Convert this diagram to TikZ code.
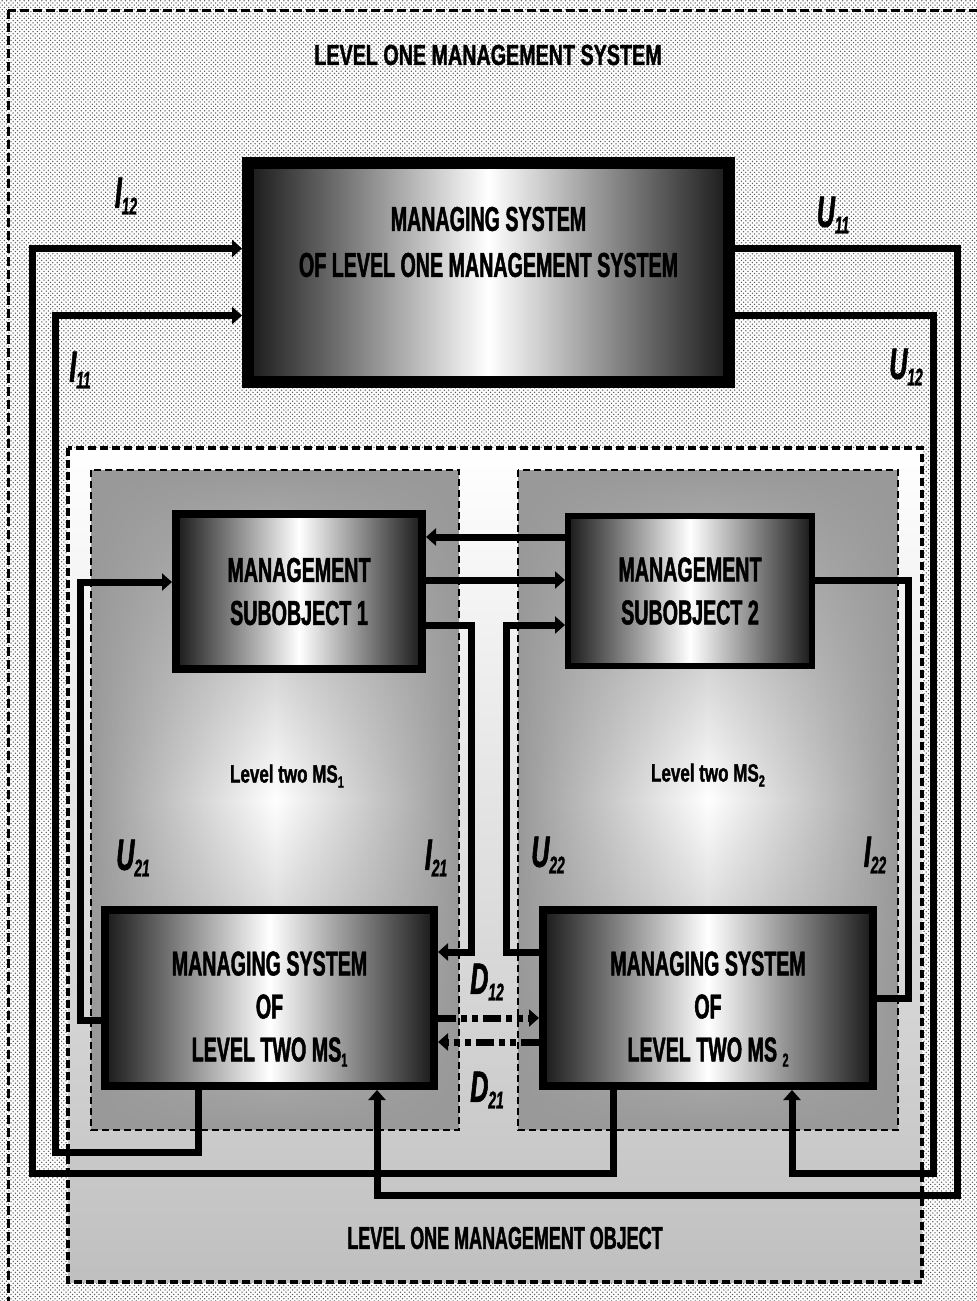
\documentclass[tikz,border=0pt]{standalone}
\usepackage{fontspec}
\setmainfont{Liberation Sans}[FakeStretch=0.57, BoldFeatures={FakeBold=1.3}, BoldItalicFeatures={FakeBold=1.3}]
\newfontfamily\widefont{Liberation Sans}[FakeStretch=0.68, BoldFeatures={FakeBold=1.2}]
\usetikzlibrary{calc,patterns,fadings,arrows.meta}
\pgfdeclarepatternformonly{bgdots}{\pgfqpoint{-1pt}{-1pt}}{\pgfqpoint{3.4pt}{3.4pt}}{\pgfqpoint{4.4pt}{4.4pt}}{%
	\pgfpathcircle{\pgfqpoint{0pt}{0pt}}{0.75pt}%
	\pgfpathcircle{\pgfqpoint{2.2pt}{2.2pt}}{0.75pt}%
	\pgfusepath{fill}}
\tikzfading[name=midfade, top color=transparent!100, bottom color=transparent!100, middle color=transparent!0]
\newcommand{\subtxt}[1]{\raisebox{-0.15em}{\scalebox{0.55}{#1}}}
\newcommand{\subsmall}[1]{\raisebox{-0.2em}{\scalebox{0.65}{#1}}}
\tikzset{
	sysbox/.style={draw=black, line width=8pt, inner sep=0pt, left color=black!90, right color=black!90, middle color=white, align=center, font=\fontsize{34.5}{43}\selectfont\bfseries},
	bigbox/.style={sysbox, line width=12pt, minimum width=481pt, minimum height=219pt},
	titletxt/.style={inner sep=0pt, align=center, font=\fontsize{34.5}{46}\selectfont\bfseries},
	boxtxt/.style={titletxt, font=\fontsize{34.5}{43}\selectfont\bfseries},
	sig/.style={inner sep=0pt, font=\fontsize{44}{44}\selectfont\bfseries\itshape},
	conn/.style={line width=7pt},
	flow/.style={conn, -{Triangle[length=10pt,width=17pt]}},
	dflow/.style={flow, dash pattern=on 18pt off 5pt on 6pt off 5pt on 6pt off 5pt},
	frameout/.style={line width=3pt, dash pattern=on 9pt off 4pt},
	frameobj/.style={line width=3.5pt, dash pattern=on 8pt off 4pt},
	framepanel/.style={line width=2.5pt, dash pattern=on 7pt off 4pt}
}
\begin{document}
\begin{tikzpicture}[x=1pt,y=-1pt]
	%%%%% START %%%%%
	\useasboundingbox (0,0) rectangle (977,1301);
	\fill[white] (0,0) rectangle (977,1301);
	\fill[pattern=bgdots, pattern color=black!65] (0,0) rectangle (977,1301);
	\draw[frameout] (8,10) rectangle (990,1320);
	\node[titletxt, font=\fontsize{29}{34}\selectfont\widefont\bfseries] (title) at (488,55) {LEVEL ONE MANAGEMENT SYSTEM};
	
	% level one management object
	\shade[top color=white, bottom color=black!25] (68,448) rectangle (922,1282);
	\draw[frameobj] (68,448) rectangle (922,1282);
	\node[titletxt, font=\fontsize{31.5}{34}\selectfont\bfseries] (objtxt) at (505,1238) {LEVEL ONE MANAGEMENT OBJECT};
	
	% level two panels
	\fill[black!40] (91,470) rectangle (459,1130);
	\shade[left color=black!40, right color=black!40, middle color=white, path fading=midfade] (91,470) rectangle (459,1130);
	\draw[framepanel] (91,470) rectangle (459,1130);
	\fill[black!40] (518,470) rectangle (898,1130);
	\shade[left color=black!40, right color=black!40, middle color=white, path fading=midfade] (518,470) rectangle (898,1130);
	\draw[framepanel] (518,470) rectangle (898,1130);
	\node[titletxt, font=\fontsize{25}{30}\selectfont\widefont\bfseries] (ms1txt) at (287,776) {Level two MS\subsmall{1}};
	\node[titletxt, font=\fontsize{25}{30}\selectfont\widefont\bfseries] (ms2txt) at (708,775) {Level two MS\subsmall{2}};
	
	% boxes
	\node[bigbox] (top) at (488.5,272.5) {};
	\node[titletxt] (toptxt) at (488.5,242) {MANAGING SYSTEM\\OF LEVEL ONE MANAGEMENT SYSTEM};
	\node[sysbox, minimum width=246pt, minimum height=155pt] (so1) at (299,591.5) {MANAGEMENT\\SUBOBJECT 1};
	\node[sysbox, line width=6pt, minimum width=244pt, minimum height=150pt] (so2) at (690,591) {MANAGEMENT\\SUBOBJECT 2};
	\node[sysbox, minimum width=329pt, minimum height=176pt] (ms1) at (269.5,998) {};
	\node[sysbox, minimum width=330pt, minimum height=176pt] (ms2) at (708,998) {};
	\node[boxtxt] (ms1lbl) at ($(ms1)+(0,11)$) {MANAGING SYSTEM\\OF\\LEVEL TWO MS\subtxt{1}};
	\node[boxtxt] (ms2lbl) at ($(ms2)+(0,11)$) {MANAGING SYSTEM\\OF\\LEVEL TWO MS \subtxt{2}};
	
	% bends
	\coordinate (ol) at (32,1173);
	\coordinate (il) at (55,1152);
	\coordinate (or) at (957,1195);
	\coordinate (ir) at (933,1173);
	\coordinate (ci21) at (471,952);
	\coordinate (cu22) at (506,625);
	\coordinate (cu21) at (80,582);
	\coordinate (ci22) at (908,998);
	
	% level one loops
	\draw[flow] ($(ms2.south)+(-95,0)$) |- (ol) |- ($(top.west)+(0,-24)$);
	\draw[flow] ($(ms1.south)+(-71.5,0)$) |- (il) |- ($(top.west)+(0,43)$);
	\draw[flow] ($(top.east)+(0,-24)$) -| (or) -| ($(ms1.south)+(107.5,0)$);
	\draw[flow] ($(top.east)+(0,43)$) -| (ir) -| ($(ms2.south)+(84,0)$);
	
	% level two loops
	\draw[flow] ($(so1.east)+(0,33.5)$) -| (ci21) -- ($(ms1.east)+(0,-46)$);
	\draw[flow] ($(ms2.west)+(0,-46)$) -| (cu22) -- ($(so2.west)+(0,34)$);
	\draw[flow] ($(ms1.west)+(0,22)$) -| (cu21) -- ($(so1.west)+(0,-9.5)$);
	\draw[conn] ($(so2.east)+(0,-11)$) -| (ci22) -- (ms2.east);
	\draw[flow] ($(so2.west)+(0,-54)$) -- ($(so1.east)+(0,-54.5)$);
	\draw[flow] ($(so1.east)+(0,-11.5)$) -- ($(so2.west)+(0,-11)$);
	\draw[dflow] ($(ms1.east)+(0,20)$) -- ($(ms2.west)+(0,20)$);
	\draw[dflow] ($(ms2.west)+(0,44)$) -- ($(ms1.east)+(0,44)$);
	
	% signals
	\node[sig] (si12) at (126,196) {I\subtxt{12}};
	\node[sig] (si11) at (80,370) {I\subtxt{11}};
	\node[sig] (su11) at (833,215) {U\subtxt{11}};
	\node[sig] (su12) at (906,367) {U\subtxt{12}};
	\node[sig] (su21) at (133,858) {U\subtxt{21}};
	\node[sig] (si21) at (436,858) {I\subtxt{21}};
	\node[sig] (su22) at (548,855) {U\subtxt{22}};
	\node[sig] (si22) at (875,855) {I\subtxt{22}};
	\node[sig] (sd12) at (487,982) {D\subtxt{12}};
	\node[sig] (sd21) at (487,1090) {D\subtxt{21}};
	%%%%% END %%%%%
\end{tikzpicture}
\end{document}
